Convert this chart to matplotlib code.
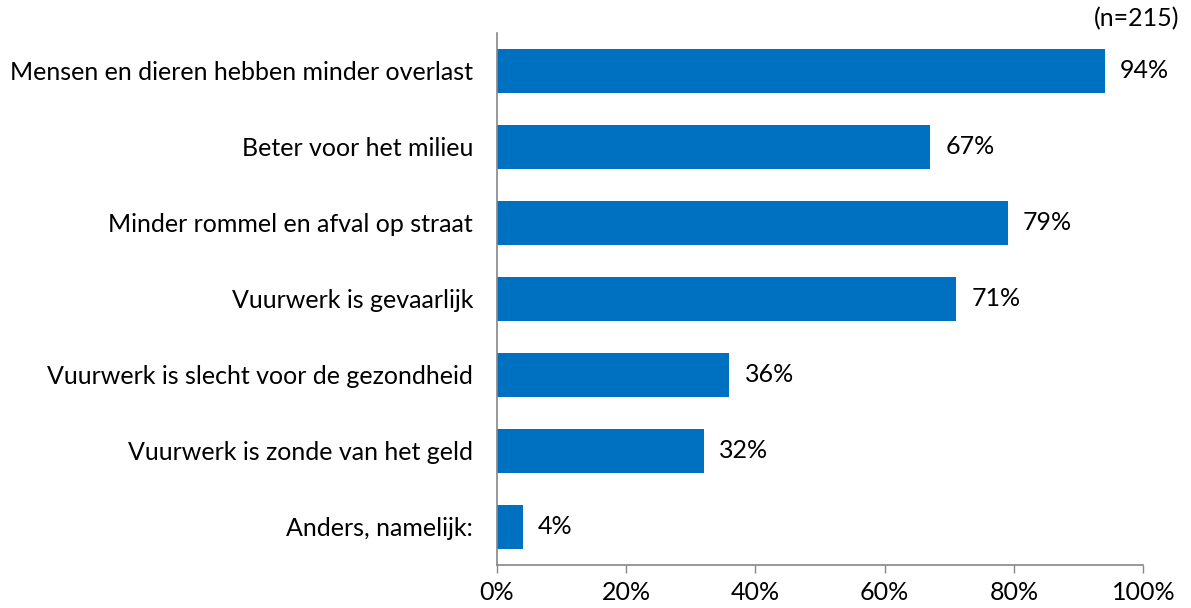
import matplotlib.pyplot as plt
from matplotlib.ticker import FuncFormatter

plt.rcParams['font.family'] = ['Lato', 'DejaVu Sans']

categories = [
    'Mensen en dieren hebben minder overlast',
    'Beter voor het milieu',
    'Minder rommel en afval op straat',
    'Vuurwerk is gevaarlijk',
    'Vuurwerk is slecht voor de gezondheid',
    'Vuurwerk is zonde van het geld',
    'Anders, namelijk:',
]
values = [94, 67, 79, 71, 36, 32, 4]
xticks = [0, 20, 40, 60, 80, 100]
note = '(n=215)'

fig = plt.figure(figsize=(11.91, 6.08), dpi=100)
ax = fig.add_axes([0.417, 0.071, 0.543, 0.875])

pos = list(range(len(categories)))
ax.barh(pos, values, height=0.58, color='#0070C0')
ax.set_ylim(len(categories) - 0.5, -0.5)
ax.set_xlim(0, 100)
ax.set_yticks(pos)
ax.set_yticklabels(categories, fontsize=18)
ax.set_xticks(xticks)
ax.xaxis.set_major_formatter(FuncFormatter(lambda v, p: f'{v:.0f}%'))
ax.tick_params(axis='x', labelsize=18, length=6, width=1, color='#868686', pad=6)
ax.tick_params(axis='y', length=0, pad=17)

for s in ['top', 'right']:
    ax.spines[s].set_visible(False)
for s in ['left', 'bottom']:
    ax.spines[s].set_color('#868686')
    ax.spines[s].set_linewidth(1.2)

for p, v in zip(pos, values):
    ax.text(v + 2.4, p, f'{v}%', va='center', ha='left', fontsize=18)

fig.text(0.99, 0.97, note, ha='right', va='center', fontsize=18)

fig.savefig('out.png', dpi=100)
